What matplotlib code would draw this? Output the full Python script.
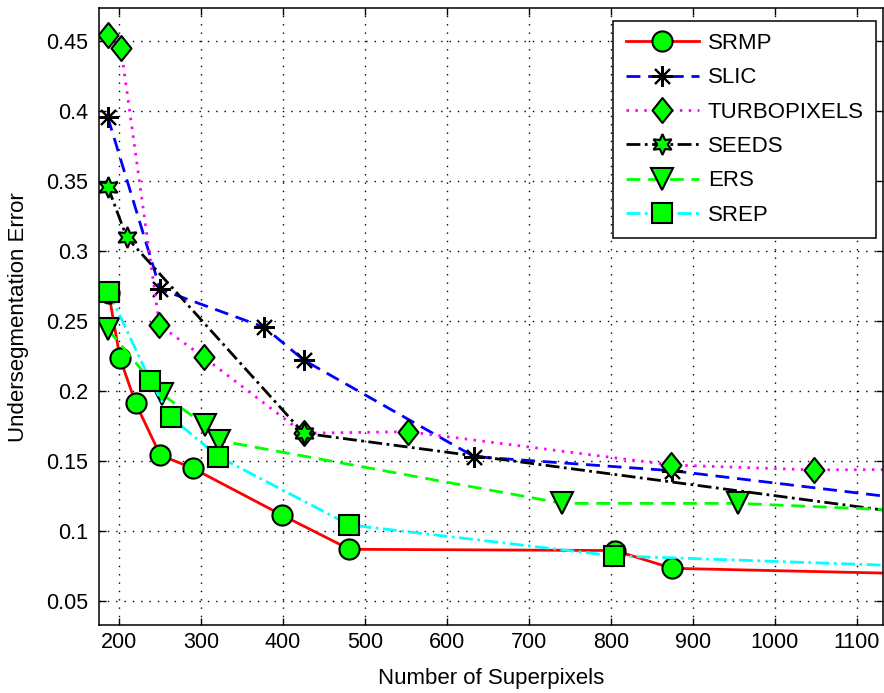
import matplotlib
matplotlib.use("Agg")
import matplotlib.pyplot as plt
from matplotlib.path import Path

plt.rcParams["font.family"] = ["Liberation Sans", "DejaVu Sans"]

# undersegmentation error vs. number of superpixels for each method
srmp_x = [187, 201, 220, 250, 290, 399, 481, 805, 875, 1200]
srmp_y = [0.270, 0.223, 0.191, 0.154, 0.1445, 0.111, 0.0867, 0.0858, 0.0731, 0.0688]

slic_x = [186, 250, 377, 425, 633, 875, 1200]
slic_y = [0.3953, 0.2724, 0.2453, 0.2219, 0.1529, 0.1428, 0.120]

turbo_x = [186, 202, 249, 303, 425, 552, 874, 1048, 1200]
turbo_y = [0.4541, 0.4446, 0.2469, 0.2239, 0.1696, 0.1707, 0.1469, 0.1434, 0.1437]

seeds_x = [186, 209, 425, 1200]
seeds_y = [0.3457, 0.3096, 0.1696, 0.1095]

ers_x = [186, 252, 305, 322, 741, 955, 1200]
ers_y = [0.244, 0.1974, 0.1755, 0.1643, 0.1195, 0.1195, 0.1134]

srep_x = [187, 238, 263, 321, 481, 804, 1200]
srep_y = [0.2707, 0.2071, 0.181, 0.1529, 0.1041, 0.0820, 0.074]

xticks = [200, 300, 400, 500, 600, 700, 800, 900, 1000, 1100]
yticks = [0.05, 0.1, 0.15, 0.2, 0.25, 0.3, 0.35, 0.4, 0.45]
ytick_labels = ["0.05", "0.1", "0.15", "0.2", "0.25", "0.3", "0.35", "0.4", "0.45"]

# matlab-like markers
diamond = Path([(0, 1), (0.8, 0), (0, -1), (-0.8, 0), (0, 1)], closed=True)
hexagram = (6, 1, 0)
asterisk = (8, 2, 0)

GREEN = "#00ff00"
DASH = (5, 2.8)
DOT = (0.9, 2.3)
DASHDOT = (5, 1.6, 1, 1.6)

fig = plt.figure(figsize=(8.84, 6.93), dpi=100)
ax = fig.add_axes([0.1123, 0.0981, 0.8862, 0.8899])

common = dict(lw=2, mfc=GREEN, mec="k", mew=1.5)
ax.plot(srmp_x, srmp_y, color="#ff0000", ls="-", marker="o", ms=14.5,
        label="SRMP", **common)
ax.plot(slic_x, slic_y, color="#0000ff", dashes=DASH, marker=asterisk, ms=15,
        label="SLIC", **common)
ax.plot(turbo_x, turbo_y, color="#ff00ff", dashes=DOT, marker=diamond, ms=18,
        label="TURBOPIXELS", **common)
ax.plot(seeds_x, seeds_y, color="k", dashes=DASHDOT, marker=hexagram, ms=15,
        label="SEEDS", **common)
ax.plot(ers_x, ers_y, color=GREEN, dashes=DASH, marker="v", ms=16,
        label="ERS", **common)
ax.plot(srep_x, srep_y, color="#00ffff", dashes=DASHDOT, marker="s", ms=14,
        label="SREP", **common)

ax.set_xlim(175.6, 1131.8)
ax.set_ylim(0.0326, 0.4731)
ax.set_xticks(xticks)
ax.set_yticks(yticks)
ax.set_yticklabels(ytick_labels)

ax.grid(True, color="k", lw=1, dashes=(1, 5))
ax.set_axisbelow(True)
ax.tick_params(direction="in", length=5, width=1, top=True, right=True,
               labelsize=15.5, colors="k")
ax.tick_params(axis="x", pad=5)
ax.tick_params(axis="y", pad=8)
for s in ax.spines.values():
    s.set_linewidth(1.1)

ax.set_xlabel("Number of Superpixels", fontsize=16, labelpad=11)
ax.set_ylabel("Undersegmentation Error", fontsize=16, labelpad=12)

leg = ax.legend(loc="upper right", bbox_to_anchor=(0.991, 0.970),
                bbox_transform=fig.transFigure, fontsize=16, numpoints=1,
                handlelength=3.3, handletextpad=0.4, labelspacing=0.6,
                borderpad=0.55, borderaxespad=0, fancybox=False,
                framealpha=1, edgecolor="k")
leg.get_frame().set_linewidth(1.1)

fig.savefig("out.png", dpi=100)
